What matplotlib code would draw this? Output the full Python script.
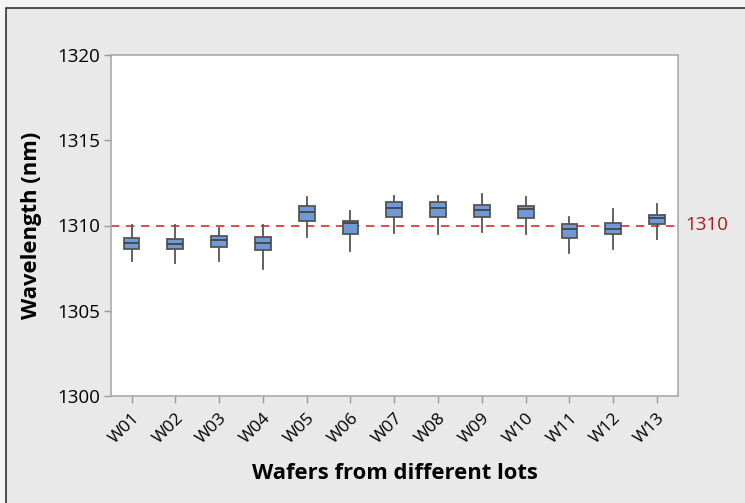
import matplotlib
matplotlib.use('Agg')
import matplotlib.pyplot as plt
import matplotlib.patches as mpatches

plt.rcParams['font.family'] = ['Open Sans', 'DejaVu Sans']

wafers = ['W01', 'W02', 'W03', 'W04', 'W05', 'W06', 'W07',
          'W08', 'W09', 'W10', 'W11', 'W12', 'W13']
whisker_low = [1307.9, 1307.8, 1307.9, 1307.43, 1309.33, 1308.5, 1309.58,
               1309.5, 1309.62, 1309.53, 1308.36, 1308.65, 1309.22]
q1 = [1308.65, 1308.6, 1308.76, 1308.54, 1310.27, 1309.51, 1310.5,
      1310.5, 1310.52, 1310.44, 1309.28, 1309.51, 1310.07]
median = [1308.99, 1308.94, 1309.15, 1309.0, 1310.82, 1310.15, 1311.04,
          1311.04, 1310.9, 1310.94, 1309.77, 1309.82, 1310.46]
q3 = [1309.28, 1309.22, 1309.38, 1309.3, 1311.13, 1310.29, 1311.37,
      1311.37, 1311.23, 1311.13, 1310.07, 1310.15, 1310.61]
whisker_high = [1310.05, 1310.05, 1309.87, 1310.05, 1311.68, 1310.84, 1311.75,
                1311.75, 1311.85, 1311.68, 1310.52, 1310.98, 1311.29]
target = 1310
y_ticks = [1300, 1305, 1310, 1315, 1320]

bg = '#e9e9e9'
fig = plt.figure(figsize=(7.45, 5.03), dpi=100, facecolor='#f4f4f4')
# framed grey panel like the source
panel = mpatches.Rectangle((6 / 745, -0.01), 1.0, 1 - 8 / 503 + 0.01,
                           transform=fig.transFigure, facecolor=bg,
                           edgecolor='#333333', linewidth=1.2, zorder=-10)
fig.patches.append(panel)

ax = fig.add_axes([111 / 745, 1 - 396 / 503, (678 - 111) / 745, (396 - 55) / 503])
ax.set_facecolor('white')

stats = []
for i, w in enumerate(wafers):
    stats.append({'label': w, 'whislo': whisker_low[i], 'q1': q1[i],
                  'med': median[i], 'q3': q3[i], 'whishi': whisker_high[i],
                  'fliers': []})

ax.axhline(target, color='#e8262b', linestyle=(0, (5, 4)), linewidth=1.2, zorder=1)

ax.bxp(stats, positions=range(1, len(wafers) + 1), widths=0.36,
       patch_artist=True, showcaps=False,
       boxprops=dict(facecolor='#6f9ad6', edgecolor='#555555', linewidth=1.3),
       medianprops=dict(color='#444444', linewidth=1.3),
       whiskerprops=dict(color='#555555', linewidth=1.3), zorder=2)

ax.set_xlim(0.53, 13.48)
ax.set_ylim(1300, 1320)
ax.set_yticks(y_ticks)
ax.set_yticklabels([str(t) for t in y_ticks], fontsize=13.5)
ax.set_xticks(range(1, len(wafers) + 1))
ax.set_xticklabels(wafers, rotation=45, ha='right', rotation_mode='anchor', fontsize=12.5)
ax.tick_params(axis='both', color='#999999', length=5, width=1, pad=3)
ax.tick_params(axis='x', pad=5)
for s in ax.spines.values():
    s.set_color('#aaaaaa')
    s.set_linewidth(1.2)

ax.text(1.012, target, '1310', transform=ax.get_yaxis_transform(),
        color='#b01818', fontsize=13.5, va='center', ha='left')

ax.set_ylabel('Wavelength (nm)', fontsize=15.8, fontweight='bold', labelpad=11)
ax.set_xlabel('Wafers from different lots', fontsize=15.8, fontweight='bold', labelpad=12)

fig.savefig('out.png', dpi=100, facecolor=fig.get_facecolor())
